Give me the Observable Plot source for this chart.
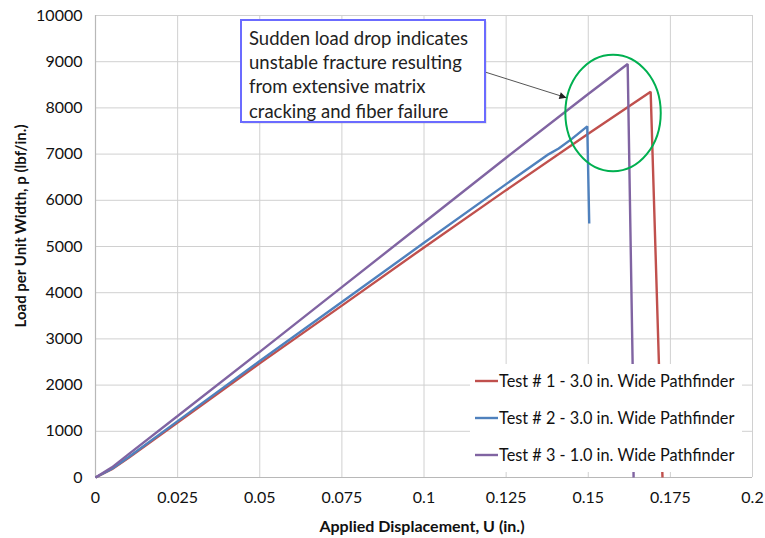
<!DOCTYPE html>
<html>
<head>
<meta charset="utf-8">
<script src="https://cdn.jsdelivr.net/npm/d3@7"></script>
<script src="https://cdn.jsdelivr.net/npm/@observablehq/plot@0.6"></script>
<style>
  html, body { margin: 0; padding: 0; background: #fff; }
  #chart { width: 765px; height: 538px; overflow: hidden; }
</style>
</head>
<body>
<div id="chart"></div>
<script>
// ---- data ----
const seriesNames = [
  "Test # 1 - 3.0 in. Wide Pathfinder",
  "Test # 2 - 3.0 in. Wide Pathfinder",
  "Test # 3 - 1.0 in. Wide Pathfinder"
];
const seriesColors = ["#C0504D", "#4F81BD", "#8064A2"];

const test1U = [0, 0.005, 0.01, 0.025, 0.05, 0.075, 0.1, 0.125, 0.15, 0.169, 0.1715, 0.1726];
const test1P = [0, 180, 420, 1190, 2470, 3720, 4980, 6220, 7440, 8350, 2500, 0];

const test2U = [0, 0.005, 0.01, 0.025, 0.05, 0.075, 0.1, 0.125, 0.138, 0.141, 0.145, 0.1497, 0.1503];
const test2P = [0, 190, 440, 1220, 2520, 3800, 5080, 6350, 7000, 7120, 7330, 7600, 5500];

const test3U = [0, 0.005, 0.01, 0.025, 0.05, 0.075, 0.1, 0.125, 0.15, 0.162, 0.1635, 0.1638];
const test3P = [0, 220, 500, 1330, 2720, 4120, 5520, 6920, 8300, 8950, 2500, 0];

const xTicks = [0, 0.025, 0.05, 0.075, 0.1, 0.125, 0.15, 0.175, 0.2];
const xTickLabels = ["0", "0.025", "0.05", "0.075", "0.1", "0.125", "0.15", "0.175", "0.2"];
const yTicks = [0, 1000, 2000, 3000, 4000, 5000, 6000, 7000, 8000, 9000, 10000];
const yTickLabels = ["0", "1000", "2000", "3000", "4000", "5000", "6000", "7000", "8000", "9000", "10000"];

const xLabel = "Applied Displacement, U (in.)";
const yLabel = "Load per Unit Width, p (lbf/in.)";
const noteLines = [
  "Sudden load drop indicates",
  "unstable fracture resulting",
  "from extensive matrix",
  "cracking and fiber failure"
];
// annotation anchors in data units
const arrowTip = [0.1435, 8210];
const ellipseCenter = [0.1577, 7880];

// ---- build rows ----
const rows = [];
[[test1U, test1P], [test2U, test2P], [test3U, test3P]].forEach(([us, ps], i) => {
  us.forEach((u, k) => rows.push({series: seriesNames[i], u, p: ps[k]}));
});

const FONT = "Lato, 'Open Sans', sans-serif";

const plot = Plot.plot({
  width: 765,
  height: 538,
  marginLeft: 95,
  marginRight: 13,
  marginTop: 15,
  marginBottom: 61,
  style: {fontFamily: FONT, fontSize: "16px", color: "#111", background: "#fff", overflow: "visible"},
  x: {domain: [0, 0.2]},
  y: {domain: [0, 10000]},
  color: {domain: seriesNames, range: seriesColors},
  marks: [
    Plot.gridX(xTicks, {stroke: "#d0d0d0", strokeOpacity: 1, strokeWidth: 1}),
    Plot.gridY(yTicks, {stroke: "#d0d0d0", strokeOpacity: 1, strokeWidth: 1}),
    Plot.ruleX([0], {stroke: "#b8b8b8", strokeWidth: 1.2}),
    Plot.ruleY([0], {stroke: "#b8b8b8", strokeWidth: 1.2}),
    Plot.axisX(xTicks, {tickSize: 0, tickPadding: 14, label: null, fontSize: 16,
      tickFormat: (d) => xTickLabels[xTicks.indexOf(d)]}),
    Plot.axisY(yTicks, {tickSize: 0, tickPadding: 13, label: null, fontSize: 16,
      tickFormat: (d) => yTickLabels[yTicks.indexOf(d)]}),
    Plot.line(rows, {x: "u", y: "p", z: "series", stroke: "series", strokeWidth: 2.4,
      strokeLinejoin: "miter", strokeLinecap: "butt"})
  ]
});

document.getElementById("chart").appendChild(plot);

const sx = plot.scale("x"), sy = plot.scale("y");
const svg = d3.select(plot);

// axis titles
svg.append("text")
  .attr("x", 422).attr("y", 532)
  .attr("text-anchor", "middle")
  .style("font-family", FONT).style("font-size", "16px").style("font-weight", "bold")
  .attr("fill", "#111")
  .text(xLabel);
svg.append("text")
  .attr("transform", "translate(26,226) rotate(-90)")
  .attr("text-anchor", "middle")
  .style("font-family", FONT).style("font-size", "15px").style("font-weight", "bold")
  .attr("fill", "#111")
  .text(yLabel);

// legend box (covers grid and lines)
const lg = svg.append("g").attr("text-anchor", "start");
lg.append("rect")
  .attr("x", 470).attr("y", 364).attr("width", 272).attr("height", 108)
  .attr("fill", "#fff");
const legendRowsY = [381, 418, 455];
seriesNames.forEach((name, i) => {
  lg.append("line")
    .attr("x1", 475).attr("x2", 498)
    .attr("y1", legendRowsY[i]).attr("y2", legendRowsY[i])
    .attr("stroke", seriesColors[i]).attr("stroke-width", 2.4);
  lg.append("text")
    .attr("x", 499).attr("y", legendRowsY[i]).attr("dy", "0.36em")
    .attr("text-anchor", "start")
    .style("font-family", FONT).style("font-size", "16.3px")
    .attr("fill", "#111")
    .text(name);
});

// green ellipse
svg.append("ellipse")
  .attr("cx", sx.apply(ellipseCenter[0])).attr("cy", sy.apply(ellipseCenter[1]))
  .attr("rx", 47.7).attr("ry", 58.3)
  .attr("fill", "none").attr("stroke", "#00B050").attr("stroke-width", 2);

// arrow from note box to curve
const defs = svg.append("defs");
defs.append("marker")
  .attr("id", "ah").attr("viewBox", "0 0 10 10")
  .attr("refX", 10).attr("refY", 5)
  .attr("markerWidth", 9).attr("markerHeight", 7)
  .attr("markerUnits", "userSpaceOnUse")
  .attr("orient", "auto")
  .append("path").attr("d", "M0,0 L10,5 L0,10 z").attr("fill", "#222");
svg.append("line")
  .attr("x1", 485).attr("y1", 72)
  .attr("x2", sx.apply(arrowTip[0])).attr("y2", sy.apply(arrowTip[1]))
  .attr("stroke", "#555").attr("stroke-width", 1)
  .attr("marker-end", "url(#ah)");

// note box
const nb = svg.append("g").attr("text-anchor", "start");
nb.append("rect")
  .attr("x", 242.5).attr("y", 21.5).attr("width", 244).attr("height", 102)
  .attr("fill", "#888").attr("opacity", 0.35);
nb.append("rect")
  .attr("x", 241).attr("y", 20).attr("width", 244).attr("height", 102)
  .attr("fill", "#fff").attr("stroke", "#6B6BFF").attr("stroke-width", 2);
noteLines.forEach((t, i) => {
  nb.append("text")
    .attr("x", 249).attr("y", 38 + i * 24.3).attr("dy", "0.36em")
    .attr("text-anchor", "start")
    .style("font-family", FONT).style("font-size", "18.5px")
    .attr("fill", "#222")
    .text(t);
});
</script>
</body>
</html>
